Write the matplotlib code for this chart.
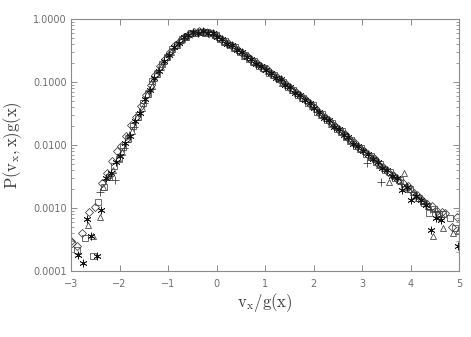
import numpy as np
import matplotlib
matplotlib.use("Agg")
import matplotlib.pyplot as plt
from matplotlib.ticker import FixedLocator, FuncFormatter, LogLocator, NullFormatter

plt.rcParams['mathtext.fontset'] = 'cm'

# ---------------- data (log10 of P(v_x,x)g(x)) ----------------
x_plus = [-2.40, -2.30, -2.20, -2.10, -2.00, -1.90, -1.80, -1.70, -1.60, -1.50,
          -1.40, -1.30, -1.20, -1.10, -1.00, -0.90, -0.80, -0.70, -0.60, -0.50,
          -0.40, -0.30, -0.20, -0.10, 0.00, 0.10, 0.20, 0.30, 0.40, 0.50,
          0.60, 0.70, 0.80, 0.90, 1.00, 1.10, 1.20, 1.30, 1.40, 1.50,
          1.60, 1.70, 1.80, 1.90, 2.00, 2.10, 2.20, 2.30, 2.40, 2.50,
          2.60, 2.70, 2.80, 2.90, 3.00, 3.10, 3.20, 3.30, 3.40, 3.50,
          3.60, 3.70, 3.80, 3.90, 4.00, 4.10, 4.20, 4.30, 4.40, 4.50, 4.60]
logp_plus = [-2.74, -2.55, -2.49, -2.56, -2.15, -2.05, -1.84, -1.71, -1.48, -1.34,
             -1.12, -0.99, -0.81, -0.71, -0.57, -0.48, -0.37, -0.32, -0.25, -0.24,
             -0.20, -0.21, -0.20, -0.24, -0.26, -0.33, -0.36, -0.43, -0.46, -0.54,
             -0.58, -0.65, -0.68, -0.75, -0.78, -0.86, -0.90, -0.97, -1.01, -1.09,
             -1.14, -1.22, -1.26, -1.34, -1.39, -1.48, -1.53, -1.62, -1.67, -1.76,
             -1.80, -1.90, -1.94, -2.03, -2.06, -2.29, -2.21, -2.26, -2.58, -2.41,
             -2.47, -2.52, -2.62, -2.65, -2.75, -2.79, -2.89, -2.92, -3.02, -3.05, -3.14]

x_ast = [-2.85, -2.76, -2.68, -2.59, -2.47,
         -2.38, -2.28, -2.18, -2.08, -1.98, -1.88, -1.78, -1.68, -1.58, -1.48,
         -1.38, -1.28, -1.18, -1.08, -0.98, -0.88, -0.78, -0.68, -0.58, -0.48,
         -0.38, -0.28, -0.18, -0.08, 0.02, 0.12, 0.22, 0.32, 0.42, 0.52,
         0.62, 0.72, 0.82, 0.92, 1.02, 1.12, 1.22, 1.32, 1.42, 1.52,
         1.62, 1.72, 1.82, 1.92, 2.02, 2.12, 2.22, 2.32, 2.42, 2.52,
         2.62, 2.72, 2.82, 2.92, 3.02, 3.12, 3.22, 3.32, 3.42, 3.52,
         3.62, 3.72, 3.82, 3.92, 4.02, 4.12, 4.22, 4.32, 4.42, 4.52, 4.62, 4.97]
logp_ast = [-3.75, -3.88, -3.18, -3.45, -3.76,
            -3.03, -2.52, -2.44, -2.27, -2.17, -1.97, -1.85, -1.62, -1.49, -1.27,
            -1.13, -0.93, -0.82, -0.66, -0.57, -0.44, -0.38, -0.29, -0.26, -0.21,
            -0.22, -0.19, -0.22, -0.23, -0.29, -0.32, -0.39, -0.42, -0.49, -0.53,
            -0.61, -0.64, -0.71, -0.74, -0.81, -0.85, -0.93, -0.96, -1.04, -1.08,
            -1.17, -1.21, -1.29, -1.34, -1.42, -1.47, -1.57, -1.61, -1.71, -1.75,
            -1.84, -1.88, -1.98, -2.01, -2.10, -2.14, -2.23, -2.27, -2.36, -2.40,
            -2.49, -2.53, -2.71, -2.67, -2.88, -2.81, -2.87, -2.96, -3.35, -3.16, -3.19, -3.61]

x_dia = [-3.00, -2.97, -2.88, -2.78, -2.62, -2.50,
         -2.36, -2.26, -2.16, -2.06, -1.96, -1.86, -1.76, -1.66, -1.56, -1.46,
         -1.36, -1.26, -1.16, -1.06, -0.96, -0.86, -0.76, -0.66, -0.56, -0.46,
         -0.36, -0.26, -0.16, -0.06, 0.04, 0.14, 0.24, 0.34, 0.44, 0.54,
         0.64, 0.74, 0.84, 0.94, 1.04, 1.14, 1.24, 1.34, 1.44, 1.54,
         1.64, 1.74, 1.84, 1.94, 2.04, 2.14, 2.24, 2.34, 2.44, 2.54,
         2.64, 2.74, 2.84, 2.94, 3.04, 3.14, 3.24, 3.34, 3.44, 3.54,
         3.64, 3.74, 3.84, 3.94, 4.04, 4.14, 4.24, 4.34, 4.44, 4.54, 4.64,
         4.71, 4.85, 4.95]
logp_dia = [-3.53, -3.56, -3.60, -3.39, -3.06, -2.99,
            -2.60, -2.44, -2.26, -2.10, -2.01, -1.86, -1.69, -1.55, -1.38, -1.20,
            -1.05, -0.89, -0.75, -0.63, -0.52, -0.42, -0.35, -0.28, -0.24, -0.21,
            -0.19, -0.21, -0.22, -0.25, -0.28, -0.35, -0.38, -0.45, -0.49, -0.56,
            -0.60, -0.67, -0.70, -0.77, -0.80, -0.88, -0.92, -0.99, -1.03, -1.11,
            -1.16, -1.24, -1.28, -1.37, -1.42, -1.50, -1.56, -1.64, -1.70, -1.78,
            -1.83, -1.91, -1.96, -2.04, -2.09, -2.17, -2.21, -2.30, -2.35, -2.43,
            -2.47, -2.56, -2.61, -2.65, -2.73, -2.80, -2.88, -2.93, -2.97, -3.04, -3.06,
            -3.08, -3.30, -3.14]

x_tri = [-2.64, -2.54, -2.40,
         -2.34, -2.24, -2.14, -2.04, -1.94, -1.84, -1.74, -1.64, -1.54, -1.44,
         -1.34, -1.24, -1.14, -1.04, -0.94, -0.84, -0.74, -0.64, -0.54, -0.44,
         -0.34, -0.24, -0.14, -0.04, 0.06, 0.16, 0.26, 0.36, 0.46, 0.56,
         0.66, 0.76, 0.86, 0.96, 1.06, 1.16, 1.26, 1.36, 1.46, 1.56,
         1.66, 1.76, 1.86, 1.96, 2.06, 2.16, 2.26, 2.36, 2.46, 2.56,
         2.66, 2.76, 2.86, 2.96, 3.06, 3.16, 3.26, 3.36, 3.46, 3.56,
         3.66, 3.76, 3.86, 3.96, 4.06, 4.16, 4.26, 4.36, 4.46, 4.56, 4.66,
         4.88, 4.98]
logp_tri = [-3.27, -3.45, -3.15,
            -2.66, -2.47, -2.39, -2.20, -2.11, -1.90, -1.77, -1.55, -1.42, -1.19,
            -1.06, -0.87, -0.76, -0.61, -0.53, -0.41, -0.34, -0.29, -0.23, -0.23,
            -0.19, -0.22, -0.21, -0.26, -0.29, -0.36, -0.39, -0.46, -0.49, -0.58,
            -0.61, -0.68, -0.71, -0.78, -0.82, -0.89, -0.93, -1.01, -1.05, -1.13,
            -1.17, -1.25, -1.29, -1.38, -1.43, -1.52, -1.57, -1.66, -1.70, -1.79,
            -1.84, -1.93, -1.97, -2.06, -2.09, -2.19, -2.22, -2.32, -2.36, -2.58,
            -2.48, -2.55, -2.45, -2.70, -2.74, -2.84, -2.89, -2.97, -3.44, -3.08, -3.32,
            -3.39, -3.36]

x_sq = [-2.88, -2.71, -2.54, -2.44,
        -2.32, -2.22, -2.12, -2.02, -1.92, -1.82, -1.72, -1.62, -1.52, -1.42,
        -1.32, -1.22, -1.12, -1.02, -0.92, -0.82, -0.72, -0.62, -0.52, -0.42,
        -0.32, -0.22, -0.12, -0.02, 0.08, 0.18, 0.28, 0.38, 0.48, 0.58,
        0.68, 0.78, 0.88, 0.98, 1.08, 1.18, 1.28, 1.38, 1.48, 1.58,
        1.68, 1.78, 1.88, 1.98, 2.08, 2.18, 2.28, 2.38, 2.48, 2.58,
        2.68, 2.78, 2.88, 2.98, 3.08, 3.18, 3.28, 3.38, 3.48, 3.58,
        3.68, 3.78, 3.88, 3.98, 4.08, 4.18, 4.28, 4.38, 4.48, 4.58, 4.68,
        4.81, 4.92]
logp_sq = [-3.67, -3.47, -3.76, -2.90,
           -2.66, -2.50, -2.33, -2.22, -2.03, -1.90, -1.70, -1.56, -1.34, -1.19,
           -0.99, -0.87, -0.72, -0.61, -0.48, -0.41, -0.32, -0.28, -0.22, -0.22,
           -0.20, -0.20, -0.23, -0.25, -0.32, -0.35, -0.42, -0.45, -0.53, -0.57,
           -0.64, -0.67, -0.74, -0.77, -0.85, -0.89, -0.96, -1.00, -1.08, -1.12,
           -1.21, -1.25, -1.33, -1.37, -1.47, -1.51, -1.61, -1.65, -1.75, -1.78,
           -1.88, -1.92, -2.01, -2.04, -2.14, -2.17, -2.27, -2.30, -2.40, -2.43,
           -2.53, -2.56, -2.66, -2.70, -2.79, -2.84, -2.92, -3.08, -3.02, -3.10, -3.09,
           -3.16, -3.32]

x_ticks = [-3, -2, -1, 0, 1, 2, 3, 4, 5]
y_ticks = [1e-4, 1e-3, 1e-2, 1e-1, 1.0]

# ---------------- figure ----------------
fig = plt.figure(figsize=(4.71, 3.37), dpi=100)
ax = fig.add_axes([71 / 471, 66 / 337, 388 / 471, 252 / 337])

series = [
    (x_plus, logp_plus, dict(marker='+', ms=5.5), '#303030'),
    (x_dia, logp_dia, dict(marker='D', ms=3.6), '#3a3a3a'),
    (x_tri, logp_tri, dict(marker='^', ms=5.0), '#3a3a3a'),
    (x_sq, logp_sq, dict(marker='s', ms=4.6), '#454545'),
    (x_ast, logp_ast, dict(marker=(6, 2, 0), ms=5.5), '#151515'),
]
for xs, lp, st, col in series:
    ax.plot(xs, np.power(10.0, lp), linestyle='none', mfc='none', mec=col,
            mew=0.55, **st)

ax.set_yscale('log')
ax.set_xlim(-3, 5)
ax.set_ylim(1e-4, 1.0)

grey = '#8a8a8a'
for sp in ax.spines.values():
    sp.set_color(grey)
    sp.set_linewidth(0.8)

ax.xaxis.set_major_locator(FixedLocator(x_ticks))
ax.xaxis.set_major_formatter(FuncFormatter(lambda v, p: f"{int(round(v))}".replace('-', '\u2212')))
ax.yaxis.set_major_locator(FixedLocator(y_ticks))
ax.yaxis.set_major_formatter(FuncFormatter(lambda v, p: f"{v:.4f}"))
ax.yaxis.set_minor_locator(LogLocator(base=10, subs=np.arange(2, 10)))
ax.yaxis.set_minor_formatter(NullFormatter())

ax.tick_params(axis='x', which='major', direction='in', top=True, bottom=True,
               length=4, width=0.7, color=grey, labelsize=7, labelcolor='#6e6e6e', pad=6)
ax.tick_params(axis='x', which='minor', bottom=False, top=False)
ax.tick_params(axis='y', which='major', direction='in', left=True, right=True,
               length=4.5, width=0.7, color=grey, labelsize=7, labelcolor='#6e6e6e', pad=3)
ax.tick_params(axis='y', which='minor', direction='in', left=True, right=True,
               length=2.3, width=0.6, color=grey)

fig.text(265 / 471, 1 - 302 / 337, r'$\mathrm{v_x/g(x)}$', ha='center', va='center',
         fontsize=12, color='#3a3a3a')
fig.text(13 / 471, 1 - 145 / 337, r'$\mathrm{P(v_x,x)g(x)}$', ha='center', va='center',
         rotation=90, fontsize=12, color='#3a3a3a')

fig.savefig('out.png', dpi=100)
